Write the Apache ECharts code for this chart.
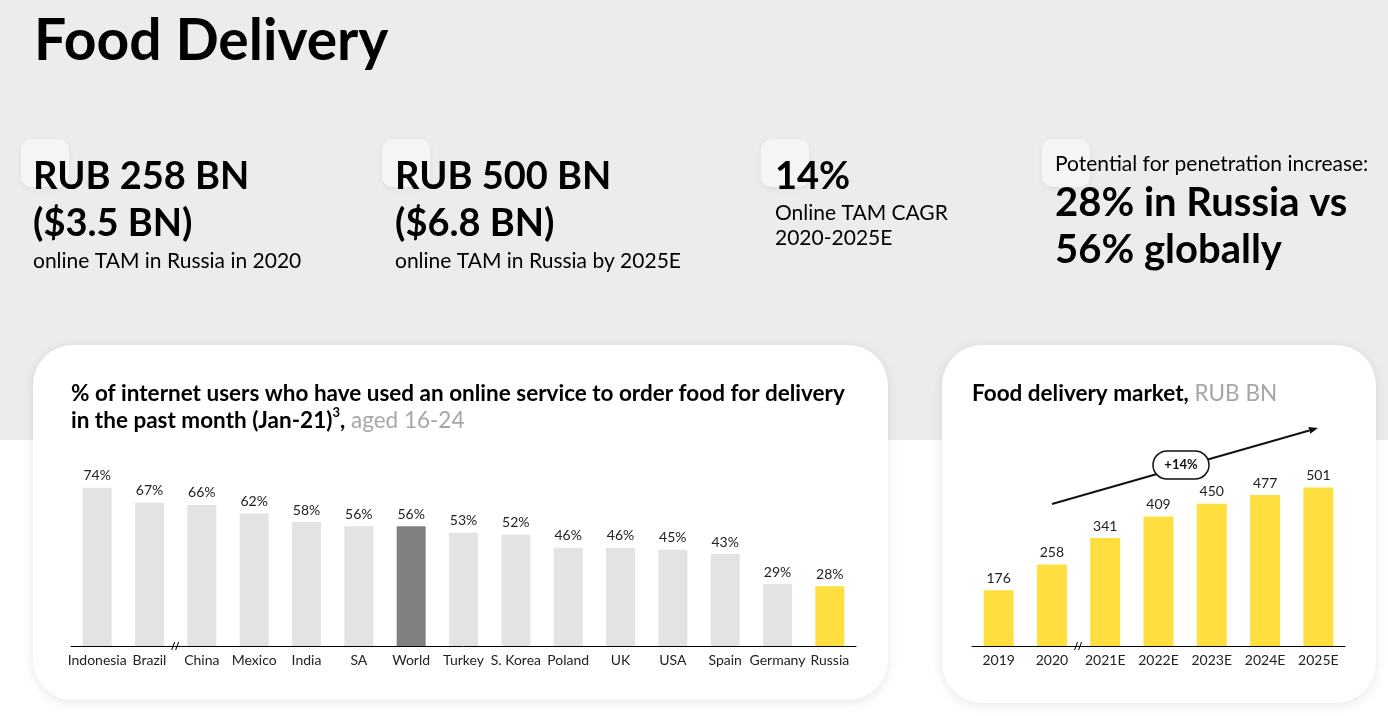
<!DOCTYPE html>
<html>
<head>
<meta charset="utf-8">
<title>Food Delivery</title>
<script src="https://cdn.jsdelivr.net/npm/echarts@6/dist/echarts.min.js"></script>
<style>
  html, body { margin: 0; padding: 0; background: #fff; }
  #main { width: 1388px; height: 716px; }
</style>
</head>
<body>
<div id="main"></div>
<script>
// penetration chart (left card)
var countries = ['Indonesia', 'Brazil', 'China', 'Mexico', 'India', 'SA', 'World', 'Turkey', 'S. Korea', 'Poland', 'UK', 'USA', 'Spain', 'Germany', 'Russia']
var penetration = [74, 67, 66, 62, 58, 56, 56, 53, 52, 46, 46, 45, 43, 29, 28]
// market size chart (right card)
var years = ['2019', '2020', '2021E', '2022E', '2023E', '2024E', '2025E']
var market = [176, 258, 341, 409, 450, 477, 501]

var FONT = 'Lato, "Noto Sans", sans-serif'
var GRAY_BAR = '#e3e3e3'
var DARK_BAR = '#808080'
var YELLOW = '#ffde3f'

// grid layout
var g1 = { left: 71, right: 532, top: 475, bottom: 70 }
var g2 = { left: 972, right: 43, top: 472, bottom: 70 }
var axisY = 716 - g1.bottom

function txt(x, baseline, text, size, weight, color) {
  return {
    type: 'text',
    style: {
      x: x, y: baseline - 0.387 * size, text: text,
      font: (weight || 'normal') + ' ' + size + 'px ' + FONT,
      fill: color || '#000',
      align: 'left', verticalAlign: 'middle',
      textAlign: 'left', textVerticalAlign: 'middle'
    }
  }
}

function square(x, y) {
  return {
    type: 'rect', z: -1,
    shape: { x: x, y: y, width: 48, height: 48, r: 10 },
    style: { fill: '#f5f5f5', shadowBlur: 6, shadowColor: 'rgba(0,0,0,0.06)', shadowOffsetY: 2 }
  }
}

function card(x, y, w, h) {
  return {
    type: 'rect', z: -1,
    shape: { x: x, y: y, width: w, height: h, r: 40 },
    style: { fill: '#fff', shadowBlur: 12, shadowColor: 'rgba(0,0,0,0.10)', shadowOffsetY: 2 }
  }
}

// little "//" break mark on an axis between two categories
function breakMark(cx) {
  return {
    type: 'group',
    children: [
      { type: 'line', shape: { x1: cx - 4, y1: axisY + 4, x2: cx - 1, y2: axisY - 4 }, style: { stroke: '#000', lineWidth: 1 } },
      { type: 'line', shape: { x1: cx, y1: axisY + 4, x2: cx + 3, y2: axisY - 4 }, style: { stroke: '#000', lineWidth: 1 } }
    ]
  }
}

function arrow(x1, y1, x2, y2) {
  var a = Math.atan2(y2 - y1, x2 - x1)
  var len = 9, wid = 3.5
  var bx = x2 - len * Math.cos(a), by = y2 - len * Math.sin(a)
  return {
    type: 'group',
    children: [
      { type: 'line', shape: { x1: x1, y1: y1, x2: bx, y2: by }, style: { stroke: '#111', lineWidth: 2 } },
      {
        type: 'polygon',
        shape: { points: [[x2, y2], [bx + wid * Math.sin(a), by - wid * Math.cos(a)], [bx - wid * Math.sin(a), by + wid * Math.cos(a)]] },
        style: { fill: '#111' }
      }
    ]
  }
}

var band1 = (1388 - g1.left - g1.right) / countries.length
var band2 = (1388 - g2.left - g2.right) / years.length
var TS = 22.5 // card title size

var chart = echarts.init(document.getElementById('main'))
chart.setOption({
  backgroundColor: '#fff',
  animation: false,
  textStyle: { fontFamily: FONT },
  graphic: {
    elements: [
      { type: 'rect', z: -2, shape: { x: 0, y: 0, width: 1388, height: 440 }, style: { fill: '#ececec' } },
      card(33, 345, 855, 355),
      card(942, 345, 434, 358),
      square(21, 139), square(382, 139), square(761, 139), square(1042, 139),

      txt(34, 64, 'Food Delivery', 57, 'bold'),

      txt(33, 191, 'RUB 258 BN', 38, 'bold'),
      txt(33, 238, '($3.5 BN)', 38, 'bold'),
      txt(33, 269, 'online TAM in Russia in 2020', 21),

      txt(395, 191, 'RUB 500 BN', 38, 'bold'),
      txt(395, 238, '($6.8 BN)', 38, 'bold'),
      txt(395, 269, 'online TAM in Russia by 2025E', 21),

      txt(775, 191, '14%', 38, 'bold'),
      txt(775, 221, 'Online TAM CAGR', 21),
      txt(775, 246, '2020-2025E', 21),

      txt(1055, 172, 'Potential for penetration increase:', 21),
      txt(1055, 219, '28% in Russia vs', 40, 'bold'),
      txt(1055, 266, '56% globally', 40, 'bold'),

      txt(71, 402, '% of internet users who have used an online service to order food for delivery', TS, 'bold'),
      {
        type: 'text',
        style: {
          x: 71, y: 429 - 0.387 * TS,
          text: '{b|in the past month (Jan-21)}{sup|3}{b|,}{g| aged 16-24}',
          align: 'left', verticalAlign: 'middle', textAlign: 'left', textVerticalAlign: 'middle',
          rich: {
            b: { fontFamily: FONT, fontWeight: 'bold', fontSize: TS, lineHeight: 28, fill: '#000', color: '#000' },
            sup: { fontFamily: FONT, fontWeight: 'bold', fontSize: 13, lineHeight: 28, verticalAlign: 'top', fill: '#000', color: '#000' },
            g: { fontFamily: FONT, fontSize: TS, lineHeight: 28, fill: '#a6a6a6', color: '#a6a6a6' }
          }
        }
      },
      {
        type: 'text',
        style: {
          x: 972, y: 402 - 0.387 * TS,
          text: '{b|Food delivery market,}{g| RUB BN}',
          align: 'left', verticalAlign: 'middle', textAlign: 'left', textVerticalAlign: 'middle',
          rich: {
            b: { fontFamily: FONT, fontWeight: 'bold', fontSize: TS, lineHeight: 28, fill: '#000', color: '#000' },
            g: { fontFamily: FONT, fontSize: TS, lineHeight: 28, fill: '#a6a6a6', color: '#a6a6a6' }
          }
        }
      },

      breakMark(g1.left + band1 * 2),
      breakMark(g2.left + band2 * 2),

      arrow(1052, 504, 1318, 428),
      {
        type: 'rect',
        shape: { x: 1153, y: 451, width: 56, height: 28, r: 14 },
        style: { fill: '#fff', stroke: '#111', lineWidth: 1.5 }
      },
      {
        type: 'text',
        style: {
          x: 1181, y: 465, text: '+14%',
          font: 'bold 13px ' + FONT, fill: '#111',
          align: 'center', verticalAlign: 'middle', textAlign: 'center', textVerticalAlign: 'middle'
        }
      }
    ]
  },
  grid: [
    { left: g1.left, right: g1.right, top: g1.top, bottom: g1.bottom },
    { left: g2.left, right: g2.right, top: g2.top, bottom: g2.bottom }
  ],
  xAxis: [
    {
      type: 'category', gridIndex: 0, data: countries,
      axisLine: { lineStyle: { color: '#000', width: 1 } },
      axisTick: { show: false },
      axisLabel: { color: '#222', fontSize: 14, fontFamily: FONT, margin: 7, interval: 0 }
    },
    {
      type: 'category', gridIndex: 1, data: years,
      axisLine: { lineStyle: { color: '#000', width: 1 } },
      axisTick: { show: false },
      axisLabel: { color: '#222', fontSize: 14, fontFamily: FONT, margin: 7, interval: 0 }
    }
  ],
  yAxis: [
    { type: 'value', gridIndex: 0, min: 0, max: 80, show: false },
    { type: 'value', gridIndex: 1, min: 0, max: 550, show: false }
  ],
  series: [
    {
      type: 'bar', xAxisIndex: 0, yAxisIndex: 0,
      data: penetration,
      barWidth: 29,
      itemStyle: {
        color: function (p) {
          if (p.name === 'World') return DARK_BAR
          if (p.name === 'Russia') return YELLOW
          return GRAY_BAR
        }
      },
      label: {
        show: true, position: 'top', distance: 5,
        formatter: '{c}%', color: '#222', fontSize: 14, fontFamily: FONT
      }
    },
    {
      type: 'bar', xAxisIndex: 1, yAxisIndex: 1,
      data: market,
      barWidth: 30,
      itemStyle: { color: YELLOW },
      label: {
        show: true, position: 'top', distance: 5,
        color: '#222', fontSize: 14, fontFamily: FONT
      }
    }
  ]
})
</script>
</body>
</html>
